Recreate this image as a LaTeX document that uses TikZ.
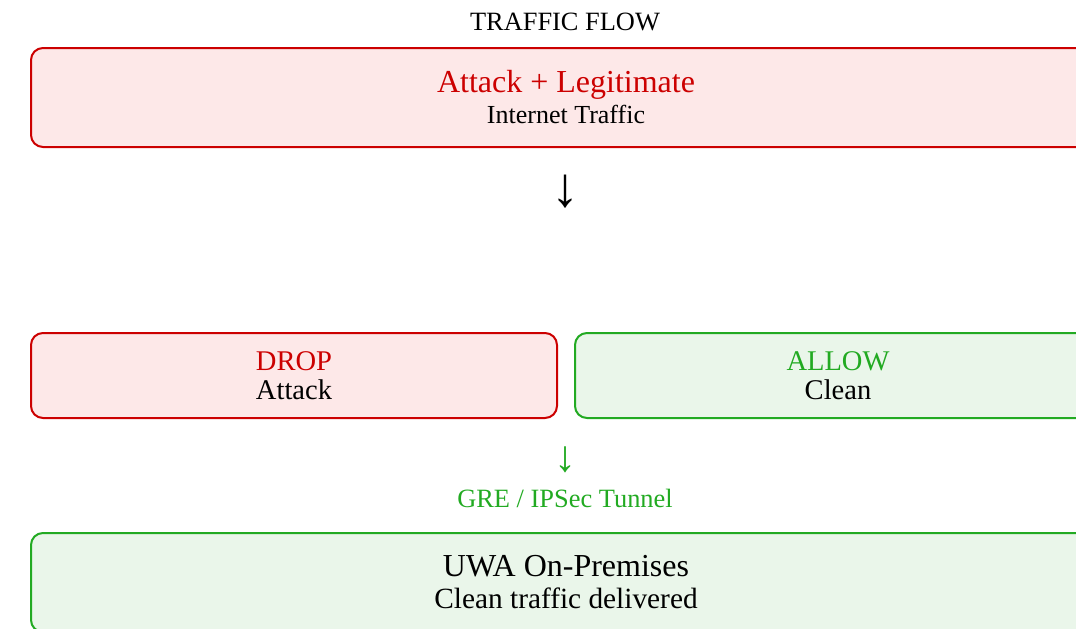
\documentclass[tikz,border=0pt]{standalone}
\usepackage{fontspec}
\setmainfont{Liberation Serif}
\usetikzlibrary{positioning}
\definecolor{dropred}{HTML}{CC0000}
\definecolor{dropfill}{HTML}{FDE8E8}
\definecolor{okgreen}{HTML}{22AA22}
\definecolor{okfill}{HTML}{EAF6EA}
\tikzstyle{redbox}=[rectangle,draw=dropred,fill=dropfill,line width=1.5pt,rounded corners=9pt,align=center,inner sep=0pt]
\tikzstyle{greenbox}=[rectangle,draw=okgreen,fill=okfill,line width=1.5pt,rounded corners=9pt,align=center,inner sep=0pt]
\tikzstyle{glyph}=[inner sep=0pt,align=center]
\newcommand{\fsz}[2]{\fontsize{#1}{#2}\selectfont}

\begin{document}
\begin{tikzpicture}[x=0.75pt,y=-0.75pt]
\useasboundingbox (0,0) rectangle (1076,629);
\clip (0,0) rectangle (1076,629);
\node[glyph,anchor=base] (title) at (565,30) {\fsz{19.8}{24}TRAFFIC FLOW};
\node[redbox,minimum width=802.5pt,minimum height=74.25pt,font=\fsz{19.5}{23.25}] (src) at (566,97.5)
  {{\fsz{24}{29}\color{dropred}Attack + Legitimate}\\Internet Traffic};
\node[glyph,font=\fsz{42}{44}] (down) at (565,192) {↓};
\node[redbox,minimum width=394.5pt,minimum height=63.75pt,font=\fsz{21.4}{21.75}] (drop) at (294,375.5)
  {{\color{dropred}DROP}\\Attack};
\node[greenbox,minimum width=394.5pt,minimum height=63.75pt,font=\fsz{21.4}{21.75}] (allow) at (838,375.5)
  {{\color{okgreen}ALLOW}\\Clean};
\node[glyph,font=\fsz{33}{36},text=okgreen] (tunarrow) at (565,460) {↓};
\node[glyph,font=\fsz{19.8}{24},text=okgreen,anchor=base] (tunnel) at (565,507) {GRE / IPSec Tunnel};
\node[greenbox,minimum width=802.5pt,minimum height=74.25pt,font=\fsz{22}{24}] (site) at (566,582.5)
  {{\fsz{24}{28}UWA On-Premises}\\Clean traffic delivered};
\end{tikzpicture}
\end{document}
